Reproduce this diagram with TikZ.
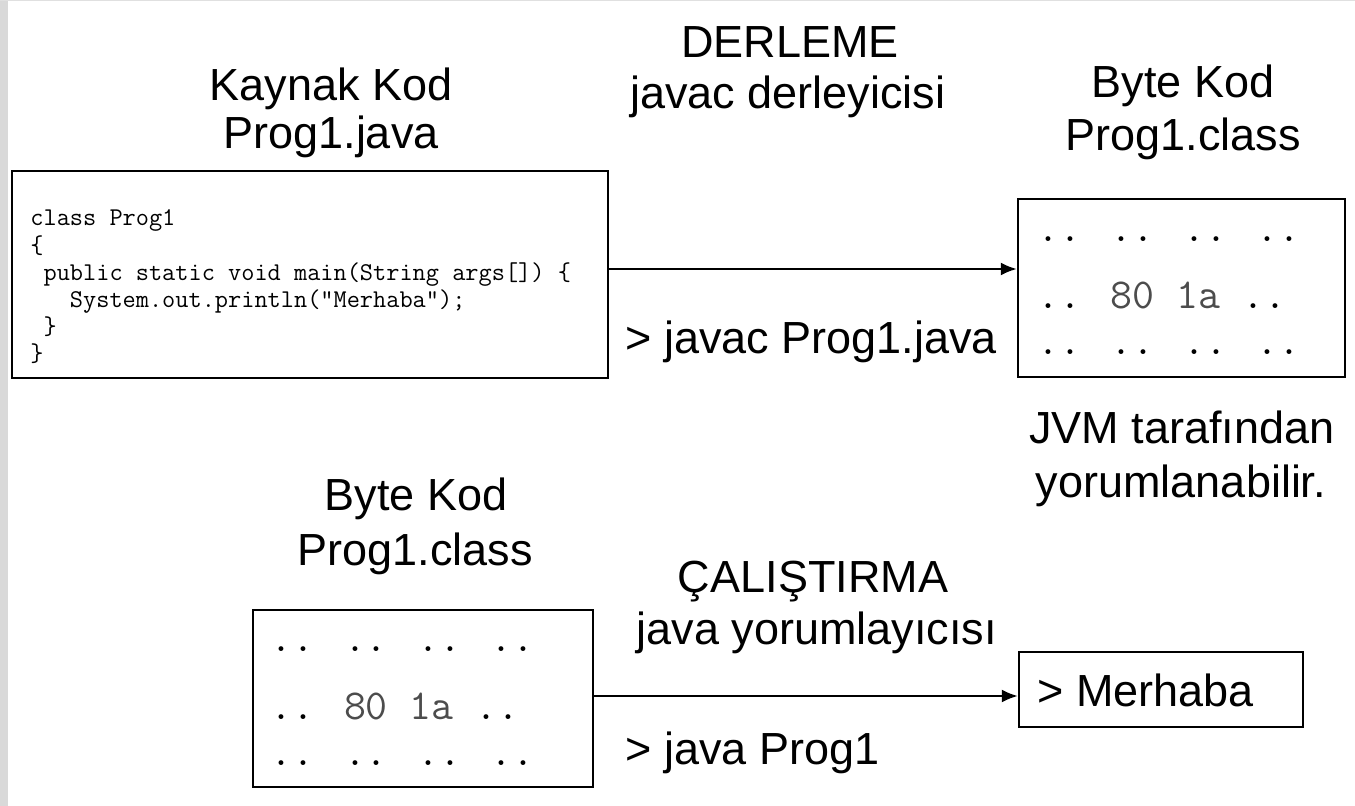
\documentclass[tikz,border=0pt]{standalone}
\usepackage{fontspec}
\setmainfont{Liberation Sans}
\usetikzlibrary{arrows.meta}
\begin{document}
\begin{tikzpicture}[x=0.5pt,y=-0.5pt,
  lbl/.style={font=\fontsize{22.5pt}{27pt}\selectfont, inner sep=0pt, anchor=base},
  lblw/.style={lbl, anchor=base west},
  box/.style={draw=black, line width=1.25pt, fill=white, rectangle, inner sep=0pt},
  srcline/.style={font=\ttfamily\fontsize{12.8pt}{14pt}\selectfont, text=black, inner sep=0pt, anchor=base west},
  byteline/.style={font=\ttfamily\fontsize{21.3pt}{23pt}\selectfont, text=black, inner sep=0pt, anchor=base west},
  arr/.style={line width=1pt, -{Latex[length=8pt,width=6.5pt]}},
]
\newcommand\hexval[1]{\textcolor{black!70}{#1}}
\useasboundingbox (0,0) rectangle (1355,806);
% page edge
\fill[black!15] (0,0) rectangle (8,806);
\draw[black!12, line width=0.75pt] (0,0.5) -- (1355,0.5);

% ---- compilation ----
\node[lbl] (srcT1) at (331,101) {Kaynak Kod};
\node[lbl] (srcT2) at (331,149) {Prog1.java};
\node[lbl] (cmpT1) at (790,58) {DERLEME};
\node[lbl] (cmpT2) at (788,109) {javac derleyicisi};
\node[lbl] (bcT1) at (1183,98) {Byte Kod};
\node[lbl] (bcT2) at (1183,151) {Prog1.class};

\node[box, minimum width=298pt, minimum height=103.5pt] (src) at (310,274.5) {};
\node[srcline] (c1) at (30,226) {class Prog1};
\node[srcline] (c2) at (30,253.2) {\{};
\node[srcline] (c3) at (30,280.4) {\phantom{x}public static void main(String args[]) \{};
\node[srcline] (c4) at (30,307.6) {\phantom{xxx}System.out.println("Merhaba");};
\node[srcline] (c5) at (30,334.8) {\phantom{x}\}};
\node[srcline] (c6) at (30,362) {\}};

\node[box, minimum width=163.5pt, minimum height=89pt] (bc) at (1181.5,288) {};
\node[byteline] (b1) at (1037,242) {.. .. .. ..};
\node[byteline] (b2) at (1037,309) {.. \hexval{80 1a} ..};
\node[byteline] (b3) at (1037,355) {.. .. .. ..};

\coordinate (ar1) at (0,269);
\draw[arr] (src.east |- ar1) -- (bc.west |- ar1);
\node[lblw] (cmd1) at (625,354) {> javac Prog1.java};

\node[lbl] (jvm1) at (1182,444) {JVM tarafından};
\node[lbl] (jvm2) at (1181,498) {yorumlanabilir.};

% ---- execution ----
\node[lbl] (rbT1) at (416,511) {Byte Kod};
\node[lbl] (rbT2) at (415,566) {Prog1.class};
\node[lbl] (runT1) at (813,593) {ÇALIŞTIRMA};
\node[lbl] (runT2) at (817,645) {java yorumlayıcısı};

\node[box, minimum width=170pt, minimum height=88.5pt] (rb) at (423,698.5) {};
\node[byteline] (r1) at (270.5,652) {.. .. .. ..};
\node[byteline] (r2) at (270.5,719) {.. \hexval{80 1a} ..};
\node[byteline] (r3) at (270.5,765) {.. .. .. ..};

\node[box, minimum width=142pt, minimum height=37.5pt] (out) at (1161,689.5) {};
\node[lblw] (outT) at (1037,706) {> Merhaba};

\coordinate (ar2) at (0,696);
\draw[arr] (rb.east |- ar2) -- (out.west |- ar2);
\node[lblw] (cmd2) at (625,764) {> java Prog1};
\end{tikzpicture}
\end{document}
